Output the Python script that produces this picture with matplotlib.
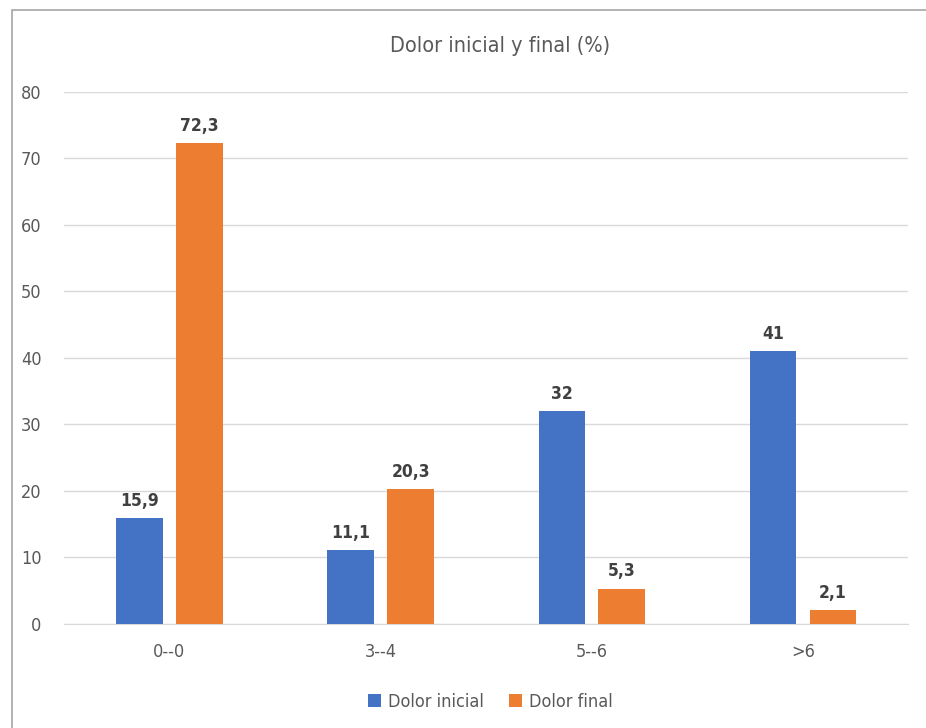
import numpy as np
import matplotlib.pyplot as plt
from matplotlib.patches import Rectangle

categories = ['0--0', '3--4', '5--6', '>6']
dolor_inicial = [15.9, 11.1, 32, 41]
dolor_final = [72.3, 20.3, 5.3, 2.1]
labels_inicial = ['15,9', '11,1', '32', '41']
labels_final = ['72,3', '20,3', '5,3', '2,1']

plt.rcParams['font.family'] = ['DejaVu Sans']
plt.rcParams['font.stretch'] = 'condensed'

gray = '#595959'
blue = '#4472C4'
orange = '#ED7D31'

fig = plt.figure(figsize=(9.26, 7.28), dpi=100)
ax = fig.add_axes([0.069, 0.143, 0.912, 0.731])

# chart area border
fig.patches.append(Rectangle((12 / 926, -0.05), 1.1, 1.05 - 10 / 728,
                             transform=fig.transFigure, fill=False,
                             edgecolor='#A6A6A6', linewidth=1.2))

x = np.arange(len(categories))
w = 0.22
b1 = ax.bar(x - 0.142, dolor_inicial, w, color=blue, label='Dolor inicial', zorder=3)
b2 = ax.bar(x + 0.142, dolor_final, w, color=orange, label='Dolor final', zorder=3)

for bars, labs in ((b1, labels_inicial), (b2, labels_final)):
    for rect, lab in zip(bars, labs):
        ax.annotate(lab, (rect.get_x() + rect.get_width() / 2, rect.get_height()),
                    xytext=(0, 6), textcoords='offset points', ha='center', va='bottom',
                    fontsize=12.5, fontweight='bold', color='#404040')

ax.set_xlim(-0.5, 3.5)
ax.set_ylim(0, 80)
ax.set_yticks(range(0, 81, 10))
ax.set_xticks(x)
ax.set_xticklabels(categories)
ax.grid(axis='y', color='#D9D9D9', linewidth=1, zorder=0)
for s in ['top', 'right', 'left']:
    ax.spines[s].set_visible(False)
ax.spines['bottom'].set_color('#D9D9D9')
ax.tick_params(length=0, labelsize=13, colors=gray)
ax.tick_params(axis='x', pad=14)
ax.tick_params(axis='y', pad=16)

fig.text(0.54, 0.937, 'Dolor inicial y final (%)', ha='center', va='center',
         fontsize=15.5, color=gray)

fig.legend(handles=[b1, b2], loc='center', bbox_to_anchor=(0.53, 0.036), ncol=2,
           frameon=False, fontsize=13, handlelength=0.7, handleheight=0.7,
           handletextpad=0.4, columnspacing=1.4, labelcolor=gray)

fig.savefig('out.png', dpi=100)
